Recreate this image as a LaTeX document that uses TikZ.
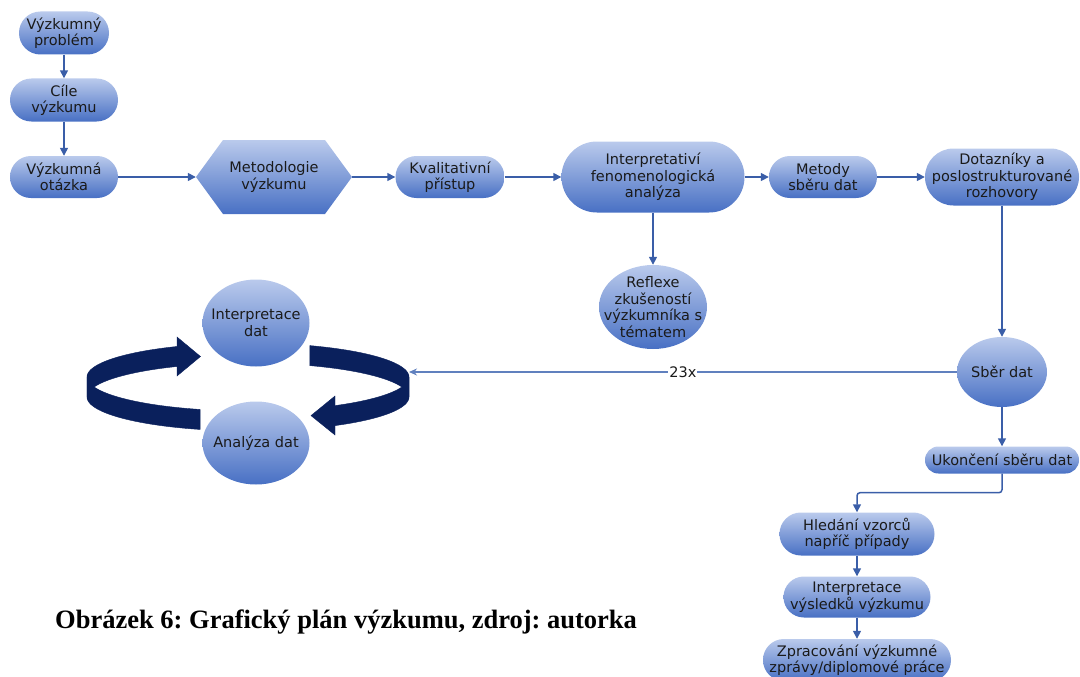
\documentclass[tikz,border=0pt]{standalone}
\usepackage{fontspec}
\usetikzlibrary{shapes.geometric,arrows.meta}
\newfontfamily\nodefont{DejaVu Sans}
\newfontfamily\capfont{Liberation Serif}
\frenchspacing
\definecolor{nodetop}{RGB}{186,202,236}
\definecolor{nodebot}{RGB}{72,112,196}
\definecolor{arrowc}{RGB}{58,94,168}
\definecolor{linec}{RGB}{96,128,190}
\definecolor{ringc}{RGB}{10,32,92}
\definecolor{txtc}{RGB}{26,26,26}
\tikzset{
  txt/.style={font=\nodefont\fontsize{14.5}{16.5}\selectfont, text=txtc, align=center},
  shadefill/.style={top color=nodetop, bottom color=nodebot, draw=none},
  pill/.style={rectangle, shadefill, inner sep=0pt, txt},
  oval/.style={ellipse, shadefill, inner sep=0pt},
  flow/.style={draw=arrowc, line width=1.5pt, -{Triangle[length=8pt,width=8pt]}},
  thinflow/.style={draw=linec, line width=1.3pt, -{Stealth[length=8pt,width=7pt]}},
  ring/.style={fill=ringc, draw=ringc, line width=0.4pt},
}
\begin{document}
\begin{tikzpicture}[x=1pt,y=-1pt]
\clip (0,0) rectangle (1080,677);

% left column
\node[pill, minimum width=90, minimum height=43, rounded corners=21.4] (vp) at (64,33) {Výzkumný\\problém};
\node[pill, minimum width=108, minimum height=43, rounded corners=21.4] (cil) at (64,100) {Cíle\\výzkumu};
\node[pill, minimum width=108, minimum height=42, rounded corners=20.9] (otaz) at (64,177) {Výzkumná\\otázka};

% methodology hexagon
\path[shadefill] (196,177) -- (223,140) -- (325,140) -- (352,177) -- (325,214) -- (223,214) -- cycle;
\node[txt, minimum width=156, minimum height=74, inner sep=0pt] (meth) at (274,177) {Metodologie\\výzkumu};

% top row
\node[pill, minimum width=109, minimum height=42, rounded corners=20.9] (kval) at (450,177) {Kvalitativní\\přístup};
\node[pill, minimum width=183, minimum height=71, rounded corners=35.4] (ifa) at (653,177) {Interpretativí\\fenomenologická\\analýza};
\node[oval, minimum width=108, minimum height=84,
      label={[name=reflT, txt]center:{Reflexe\\zkušeností\\výzkumníka s\\tématem}}] (refl) at (653,307) {};
\node[pill, minimum width=108, minimum height=42, rounded corners=20.9] (met) at (823,177) {Metody\\sběru dat};
\node[pill, minimum width=154, minimum height=57, rounded corners=28.4] (dot) at (1002,177) {Dotazníky a\\poslostrukturované\\rozhovory};

% right column
\node[oval, minimum width=90, minimum height=70,
      label={[name=sberT, txt]center:{Sběr dat}}] (sber) at (1002,372) {};
\node[pill, minimum width=154, minimum height=27, rounded corners=13.4] (ukon) at (1002,460) {Ukončení sběru dat};
\node[pill, minimum width=155, minimum height=43, rounded corners=21.4] (hled) at (857,534) {Hledání vzorců\\napříč případy};
\node[pill, minimum width=147, minimum height=41, rounded corners=20.4] (ivys) at (857,597) {Interpretace\\výsledků výzkumu};
\node[pill, minimum width=188, minimum height=42, rounded corners=20.9] (zprac) at (857,660) {Zpracování výzkumné\\zprávy/diplomové práce};

% analysis cycle: two curved ribbon arrows
\foreach \a/\b in {107.3/180, 180/243.8, 292.6/360, 0/57.3} {
  \path[ring] plot[domain=\a:\b, samples=40, variable=\t] ({248+161*cos(\t)},{377+34*sin(\t)})
    -- plot[domain=\a:\b, samples=40, variable=\t] ({248+161*cos(\a+\b-\t)},{397+34*sin(\a+\b-\t)}) -- cycle;
}
\path[ring] (177,337) -- (200.5,356.5) -- (177,376) -- cycle;
\path[ring] (335,396) -- (311,415.6) -- (335,435) -- cycle;
\coordinate (ringin) at (409,372);

\node[oval, minimum width=107, minimum height=87,
      label={[name=intdT, txt]center:{Interpretace\\dat}}] (intd) at (256,323) {};
\node[oval, minimum width=107, minimum height=83,
      label={[name=analT, txt]center:{Analýza dat}}] (anal) at (256,443) {};

% connectors
\draw[flow] (vp.south) -- (cil.north);
\draw[flow] (cil.south) -- (otaz.north);
\draw[flow] (otaz.east) -- (meth.west);
\draw[flow] (meth.east) -- (kval.west);
\draw[flow] (kval.east) -- (ifa.west);
\draw[flow] (ifa.south) -- (refl.north);
\draw[flow] (ifa.east) -- (met.west);
\draw[flow] (met.east) -- (dot.west);
\draw[flow] (dot.south) -- (sber.north);
\draw[flow] (sber.south) -- (ukon.north);
\draw[flow, rounded corners=3pt] (ukon.south) -- ++(0,19) -| (hled.north);
\draw[flow] (hled.south) -- (ivys.north);
\draw[flow] (ivys.south) -- (zprac.north);
\draw[thinflow] (sber.west) -- node[name=reps, txt, fill=white, inner sep=1pt, pos=0.5] {23x} (ringin);

% caption
\node[anchor=base west, inner sep=0pt, font=\capfont\bfseries\fontsize{26.5}{30}\selectfont] (cap) at (55,628)
  {Obrázek 6: Grafický plán výzkumu, zdroj: autorka};
\end{tikzpicture}
\end{document}
